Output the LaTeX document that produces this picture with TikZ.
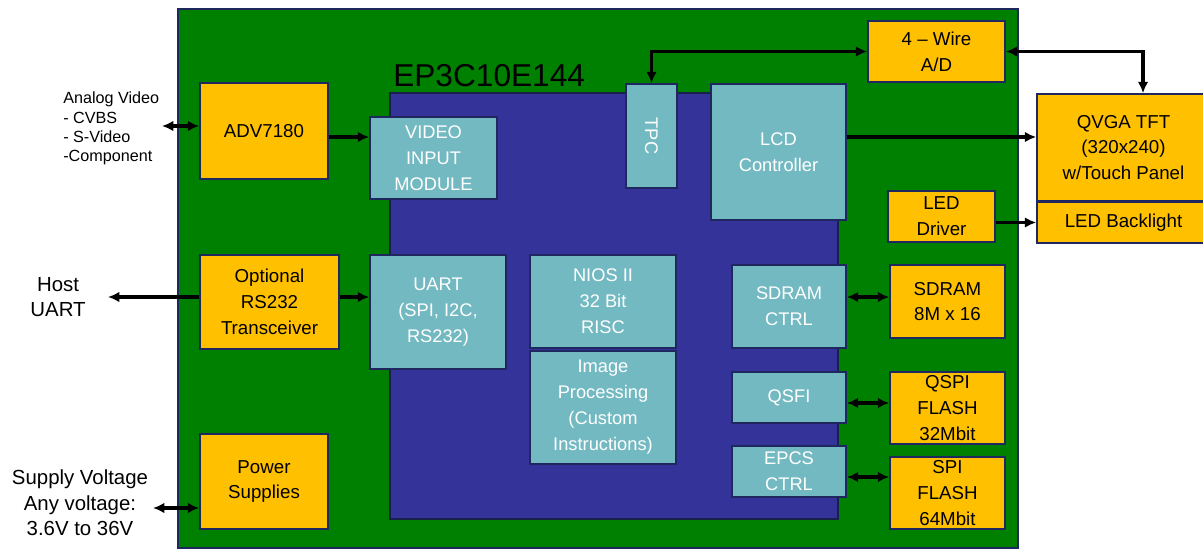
\documentclass[tikz,border=0pt]{standalone}
\usepackage{fontspec}
\setmainfont{Liberation Sans}
\usetikzlibrary{arrows.meta}
\definecolor{boardgreen}{RGB}{0,128,0}
\definecolor{fpgablue}{RGB}{51,51,153}
\definecolor{ipteal}{RGB}{115,185,193}
\definecolor{chiporange}{RGB}{255,192,0}
\definecolor{edgenavy}{RGB}{30,40,95}
\tikzset{
  >={Latex[length=8pt,width=7.5pt]},
  {size/.style 2 args} ={minimum width=#1*0.025cm, minimum height=#2*0.025cm},
  {ipblock/.style} ={draw=edgenavy, line width=1.2pt, fill=ipteal, text=white,
                     align=center, inner sep=1pt,
                     font=\fontsize{13}{18.5}\selectfont},
  {chip/.style} ={ipblock, fill=chiporange, text=black,
                  font=\fontsize{13.3}{18.3}\selectfont},
  {wire/.style} ={line width=2.6pt, black},
  {side label/.style} ={align=center, font=\fontsize{14.5}{18}\selectfont},
}

\begin{document}
\begin{tikzpicture}[x=0.025cm,y=-0.025cm]
\useasboundingbox (0,0) rectangle (1203,551);
% board and FPGA
\filldraw[draw=edgenavy, line width=1.4pt, fill=boardgreen] (178,9) rectangle (1018,548);
\filldraw[draw=edgenavy!80!black, line width=0.8pt, fill=fpgablue] (390,93) rectangle (838,519);
\node[anchor=base west, inner sep=0, font=\fontsize{22.5}{26}\selectfont] (fpga) at (393,87) {EP3C10E144};

% blocks inside the FPGA
\node[ipblock, size={127}{82}] (vim) at (433.5,158) {VIDEO\\INPUT\\MODULE};
\node[ipblock, size={51}{104}] (tpc) at (651.5,136) {};
\node[rotate=-90, text=white, font=\fontsize{13}{15}\selectfont] (tpctxt) at (tpc) {TPC};
\node[ipblock, size={135}{136}] (lcd) at (778.5,152) {LCD\\Controller};
\node[ipblock, size={136}{114}] (uart) at (438,312) {UART\\(SPI, I2C,\\RS232)};
\node[ipblock, size={146}{93}] (nios) at (603,301.5) {NIOS II\\32 Bit\\RISC};
\node[ipblock, size={146}{113}] (imgp) at (603,407.5) {Image\\Processing\\(Custom\\Instructions)};
\node[ipblock, size={114}{83}] (sdc) at (789,306.5) {SDRAM\\CTRL};
\node[ipblock, size={114}{51}] (qsfi) at (789,397.5) {QSFI};
\node[ipblock, size={114}{51}] (epcs) at (789,471.5) {EPCS\\CTRL};

% chips on the board
\node[chip, size={128}{96}] (adv) at (264,131) {ADV7180};
\node[chip, size={139}{94}] (rs) at (269.5,302) {Optional\\RS232\\Transceiver};
\node[chip, size={128}{95}] (pwr) at (264,481.5) {Power\\Supplies};
\node[chip, size={137}{61}] (adc) at (936.5,51.5) {4 -- Wire\\A/D};
\node[chip, size={107}{51}] (ledd) at (941.5,216.5) {LED\\Driver};
\node[chip, size={115}{73}] (sdram) at (947.5,301.5) {SDRAM\\8M x 16};
\node[chip, size={115}{72}] (qspi) at (947.5,408) {QSPI\\FLASH\\32Mbit};
\node[chip, size={115}{72}] (spi) at (947.5,493) {SPI\\FLASH\\64Mbit};
\node[chip, size={173}{107}] (qvga) at (1123.5,147.5) {QVGA TFT\\(320x240)\\w/Touch Panel};
\node[chip, size={173}{41}] (blight) at (1123.5,222.5) {LED Backlight};

% outside labels
\node[align=left, anchor=north west, inner sep=0,
      font=\fontsize{11.5}{13.6}\selectfont] (avtxt) at (63,92)
      {Analog Video\\- CVBS\\- S-Video\\-Component};
\node[side label] (host) at (58,297) {Host\\UART};
\node[side label] (supply) at (80,503) {Supply Voltage\\Any voltage:\\3.6V to 36V};
\coordinate (avend) at (162,126);
\coordinate (hostend) at (108,297);
\coordinate (supend) at (153,508);

% connections
\draw[wire,<->] (avend) -- (avend -| adv.west);
\draw[wire,->] (adv.east |- 0,137) -- (vim.west |- 0,137);
\draw[wire,->] (rs.west |- hostend) -- (hostend);
\draw[wire,->] (rs.east |- hostend) -- (uart.west |- hostend);
\draw[wire,<->] (supend) -- (supend -| pwr.west);
\draw[wire,<->] (tpc.north) |- (adc.west);
\draw[wire,<->] (adc.east) -| (qvga.north -| 1143,0);
\draw[wire,->] (lcd.east |- 0,137) -- (qvga.west |- 0,137);
\draw[wire,->] (ledd.east |- blight.west) -- (blight.west);
\draw[wire,<->] (sdc.east |- 0,297) -- (sdram.west |- 0,297);
\draw[wire,<->] (qsfi.east |- 0,403) -- (qspi.west |- 0,403);
\draw[wire,<->] (epcs.east |- 0,477) -- (spi.west |- 0,477);
\end{tikzpicture}
\end{document}
